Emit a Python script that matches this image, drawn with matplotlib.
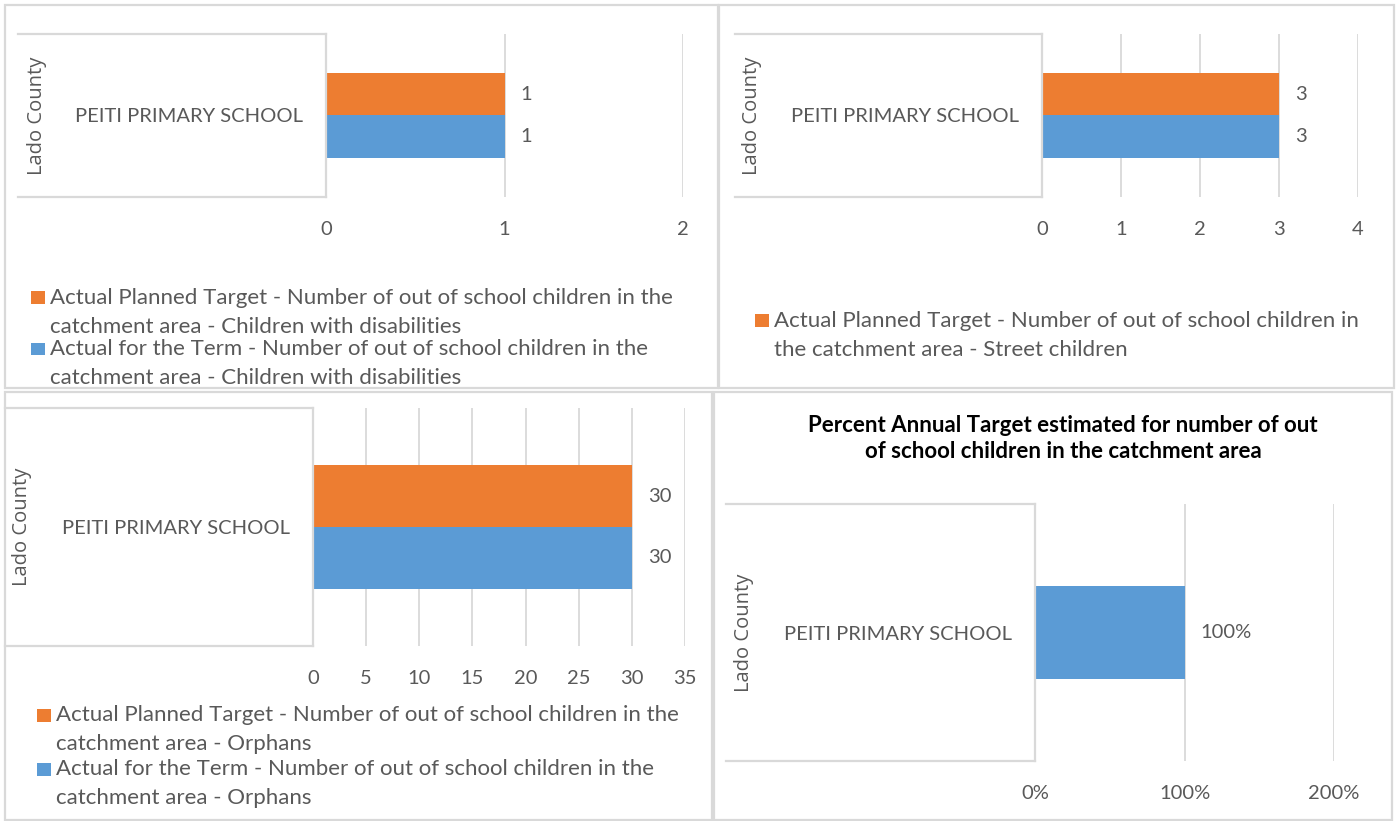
import matplotlib
matplotlib.use("Agg")
import matplotlib.pyplot as plt
from matplotlib.patches import Rectangle
from matplotlib.ticker import FuncFormatter

# ---------------- data ----------------
school = "PEITI PRIMARY SCHOOL"
county = "Lado County"

planned_disab = [1]
term_disab = [1]
planned_street = [3]
term_street = [3]
planned_orphans = [30]
term_orphans = [30]
pct_annual = [1.0]

legend_disab = [
    "Actual Planned Target - Number of out of school children in the\ncatchment area - Children with disabilities",
    "Actual for the Term - Number of out of school children in the\ncatchment area - Children with disabilities",
]
legend_street = [
    "Actual Planned Target - Number of out of school children in\nthe catchment area - Street children",
]
legend_orphans = [
    "Actual Planned Target - Number of out of school children in the\ncatchment area - Orphans",
    "Actual for the Term - Number of out of school children in the\ncatchment area - Orphans",
]
title4 = "Percent Annual Target estimated for number of out\nof school children in the catchment area"

ORANGE = "#ED7D31"
BLUE = "#5B9BD5"
TXT = "#595959"
GRID = "#D9D9D9"
FONT = "Lato"
FS = 14.5
LFS = 16
TFS = 16

W, H = 1398, 821
fig = plt.figure(figsize=(W / 100, H / 100), dpi=100)
fig.patch.set_facecolor("white")


def fx(x):
    return x / W


def fy(y):
    return 1 - y / H


def border(x0, y0, x1, y1):
    fig.patches.append(Rectangle((fx(x0), fy(y1)), (x1 - x0) / W, (y1 - y0) / H,
                                 transform=fig.transFigure, fill=False,
                                 edgecolor=GRID, lw=1.6))


def make_axes(x0, x1, y0, y1, box_left, xmax, xstep, county_x, pct=False):
    ax = fig.add_axes([fx(x0), fy(y1), (x1 - x0) / W, (y1 - y0) / H])
    ax.set_xlim(0, xmax)
    ax.set_ylim(-0.5, 0.5)
    ticks = [i * xstep for i in range(int(round(xmax / xstep)) + 1)]
    ax.set_xticks(ticks)
    if pct:
        ax.xaxis.set_major_formatter(FuncFormatter(lambda v, p: f"{v*100:.0f}%"))
    ax.set_yticks([0])
    ax.set_yticklabels([school])
    for s in ax.spines.values():
        s.set_visible(False)
    ax.grid(axis="x", color=GRID, lw=1.3)
    ax.set_axisbelow(True)
    ax.tick_params(axis="both", length=0, colors=TXT, labelsize=FS)
    ax.tick_params(axis="x", pad=17)
    ax.tick_params(axis="y", pad=16.5)
    for lab in ax.get_xticklabels() + ax.get_yticklabels():
        lab.set_fontfamily(FONT)
    # category box lines
    bl = (box_left - x0) / (x1 - x0)
    for yy in (0, 1):
        ax.plot([bl, 0], [yy, yy], transform=ax.transAxes, color=GRID, lw=1.6,
                clip_on=False)
    ax.plot([0, 0], [0, 1], transform=ax.transAxes, color=GRID, lw=1.6, clip_on=False)
    fig.text(fx(county_x), fy((y0 + y1) / 2), county, rotation=90, ha="center",
             va="center", color=TXT, fontsize=FS, family="Open Sans")
    return ax


def value_labels(ax, bars, fmt="{:g}"):
    for b in bars:
        v = b.get_width()
        ax.annotate(fmt.format(v), xy=(v, b.get_y() + b.get_height() / 2),
                    xytext=(11.5, 0), textcoords="offset points", va="center",
                    ha="left", color=TXT, fontsize=FS, family=FONT)


def legend(x_sq, entries):
    # entries: (color, label, y_first_line_center)
    for color, label, yc in entries:
        fig.patches.append(Rectangle((fx(x_sq), fy(yc + 6.5)), 14 / W, 13 / H,
                                     transform=fig.transFigure, color=color, lw=0))
        for i, line in enumerate(label.split("\n")):
            fig.text(fx(x_sq + 19), fy(yc + i * 29), line, ha="left", va="center",
                     color=TXT, fontsize=LFS, family=FONT)


BH = 0.26

# ---- panel borders
border(5, 5, 718, 388)
border(719, 5, 1394, 388)
border(5, 392, 712, 820)
border(714, 392, 1392, 820)

# ---- panel 1
ax1 = make_axes(326, 683, 34, 197, 18, 2, 1, 37)
b = ax1.barh([BH / 2], planned_disab, height=BH, color=ORANGE)
value_labels(ax1, b)
b = ax1.barh([-BH / 2], term_disab, height=BH, color=BLUE)
value_labels(ax1, b)
legend(31, [(ORANGE, legend_disab[0], 298), (BLUE, legend_disab[1], 349)])

# ---- panel 2
ax2 = make_axes(1042, 1358, 34, 197, 735, 4, 1, 752)
b = ax2.barh([BH / 2], planned_street, height=BH, color=ORANGE)
value_labels(ax2, b)
b = ax2.barh([-BH / 2], term_street, height=BH, color=BLUE)
value_labels(ax2, b)
legend(755, [(ORANGE, legend_street[0], 321)])

# ---- panel 3
ax3 = make_axes(313, 685, 408, 646, 5, 35, 5, 22)
b = ax3.barh([BH / 2], planned_orphans, height=BH, color=ORANGE)
value_labels(ax3, b)
b = ax3.barh([-BH / 2], term_orphans, height=BH, color=BLUE)
value_labels(ax3, b)
legend(37, [(ORANGE, legend_orphans[0], 715), (BLUE, legend_orphans[1], 769)])

# ---- panel 4
ax4 = make_axes(1035, 1334, 504, 761, 726, 2, 1, 744, pct=True)
b = ax4.barh([0], pct_annual, height=0.36, color=BLUE)
value_labels(ax4, b, fmt="{:.0%}")
fig.text(fx(1063), fy(438.5), title4, ha="center", va="center", fontsize=TFS,
         fontweight="bold", family=FONT, color="black", linespacing=1.32)

fig.savefig("out.png", dpi=100, facecolor="white")
